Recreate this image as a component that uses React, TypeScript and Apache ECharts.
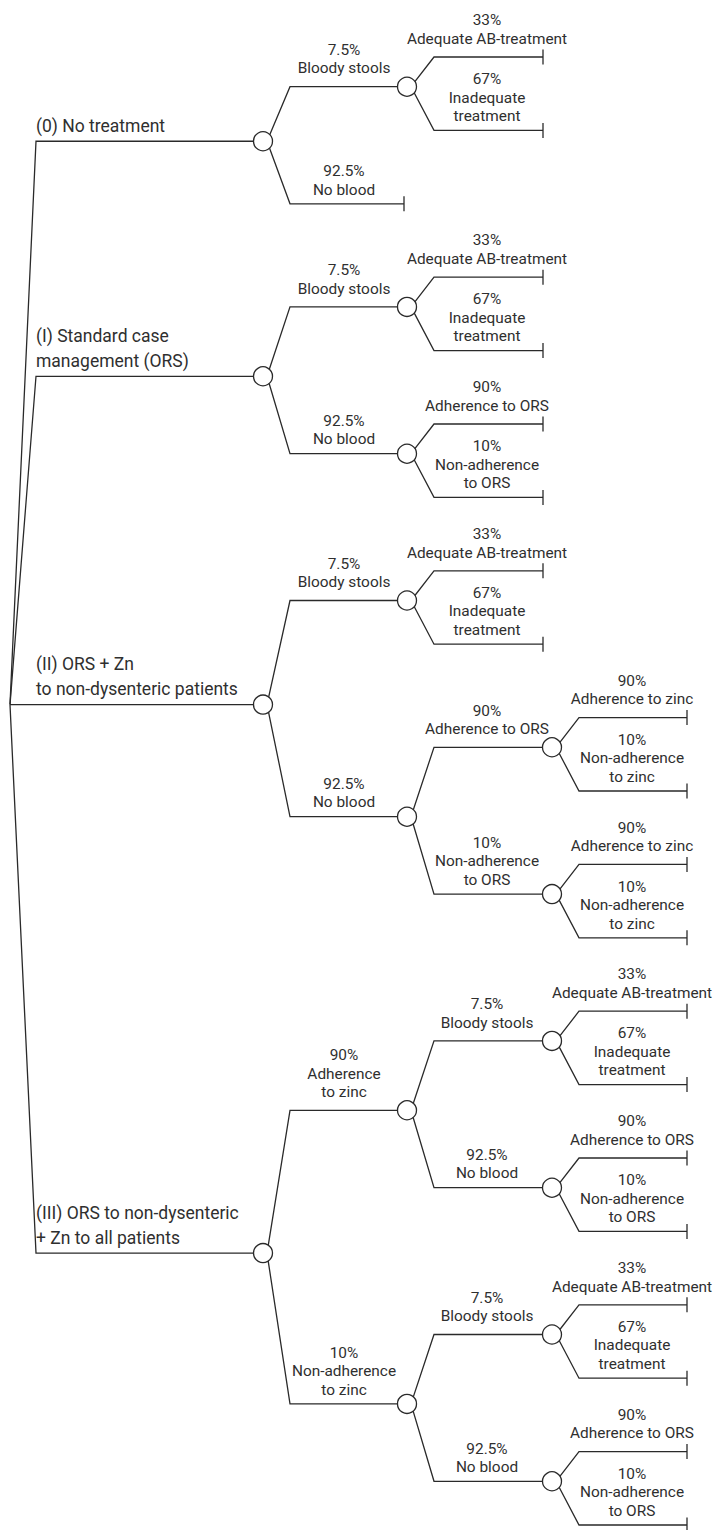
import React, { useEffect, useRef } from "react";
import * as echarts from "echarts";

// ---------------- DATA ----------------
const strategies = [
  "(0) No treatment",
  "(I) Standard case\nmanagement (ORS)",
  "(II) ORS + Zn\nto non-dysenteric patients",
  "(III) ORS to non-dysenteric\n+ Zn to all patients",
];
const stoolProbs = ["7.5%", "92.5%"];
const stoolLabels = ["Bloody stools", "No blood"];
const abProbs = ["33%", "67%"];
const abLabels = ["Adequate AB-treatment", "Inadequate\ntreatment"];
const orsProbs = ["90%", "10%"];
const orsLabels = ["Adherence to ORS", "Non-adherence\nto ORS"];
const zincProbs = ["90%", "10%"];
const zincLabels = ["Adherence to zinc", "Non-adherence\nto zinc"];
const zincLabelsTop = ["Adherence\nto zinc", "Non-adherence\nto zinc"];

// ---------------- TREE ----------------
type TNode = { text: string; prob?: string; children: TNode[]; y?: number; depth?: number; first?: boolean };

const leaves = (probs: string[], labels: string[]): TNode[] =>
  probs.map((p, i) => ({ prob: p, text: labels[i], children: [] }));
const branch = (probs: string[], labels: string[], kids: (TNode[] | null)[]): TNode[] =>
  probs.map((p, i) => ({ prob: p, text: labels[i], children: kids[i] || [] }));
const stoolOrs = () =>
  branch(stoolProbs, stoolLabels, [leaves(abProbs, abLabels), leaves(orsProbs, orsLabels)]);

const trees: TNode[] = [
  { text: strategies[0], children: branch(stoolProbs, stoolLabels, [leaves(abProbs, abLabels), null]) },
  { text: strategies[1], children: stoolOrs() },
  {
    text: strategies[2],
    children: branch(stoolProbs, stoolLabels, [
      leaves(abProbs, abLabels),
      branch(orsProbs, orsLabels, [leaves(zincProbs, zincLabels), leaves(zincProbs, zincLabels)]),
    ]),
  },
  { text: strategies[3], children: branch(zincProbs, zincLabelsTop, [stoolOrs(), stoolOrs()]) },
];

// ---------------- LAYOUT (style constants) ----------------
const W = 713;
const H = 1530;
const LAY = {
  rootX: 10,
  stemX: 36,
  nodeX: [10, 263, 407, 552, 696],
  tickX: [0, 0, 404, 543, 687],
  labelX: [0, 36, 344, 487, 632],
  elbow: 27,
  leafTop: 57,
  leafStep: 73.4,
  liftLeafParent: 7,
  liftParent: 4,
  rootAlignIndex: 2,
};
const INK = "#2a2a2a";
const TEXT = "#2f2f2f";

let leafCounter = 0;
function layout(n: TNode, depth: number) {
  n.depth = depth;
  if (!n.children.length) {
    n.y = LAY.leafTop + leafCounter++ * LAY.leafStep;
    return;
  }
  n.children.forEach((c, i) => {
    c.first = i === 0;
    layout(c, depth + 1);
  });
  const mean = n.children.reduce((s, c) => s + (c.y as number), 0) / n.children.length;
  const allLeaves = n.children.every((c) => !c.children.length);
  n.y = mean - (allLeaves ? LAY.liftLeafParent : LAY.liftParent);
}
trees.forEach((t) => layout(t, 1));
const rootY = trees[LAY.rootAlignIndex].y as number;

type Edge = { pts: number[][]; tick?: number[][]; label: string; lx: number; ly: number; main: boolean };
const edges: Edge[] = [];
const circles: number[][] = [];

function collect(n: TNode, parent: TNode | null) {
  const d = n.depth as number;
  const y = n.y as number;
  const isLeaf = !n.children.length;
  const endX = isLeaf ? LAY.tickX[d] : LAY.nodeX[d];
  let pts: number[][];
  if (!parent) {
    pts = [[LAY.rootX, rootY], [LAY.stemX, y], [endX, y]];
  } else {
    const px = LAY.nodeX[d - 1];
    pts = [[px + 4, parent.y as number], [px + LAY.elbow, y], [endX, y]];
  }
  const e: Edge = {
    pts,
    label: parent ? `${n.prob}\n${n.text}` : n.text,
    lx: LAY.labelX[d],
    ly: parent ? y - (n.first ? 9 : 5) : y - 3,
    main: !parent,
  };
  if (isLeaf) e.tick = [[endX, y - 7.5], [endX, y + 7.5]];
  edges.push(e);
  if (!isLeaf) circles.push([LAY.nodeX[d], y]);
  n.children.forEach((c) => collect(c, n));
}
trees.forEach((t) => collect(t, null));

export default function App() {
  const ref = useRef<HTMLDivElement>(null);
  useEffect(() => {
    if (!ref.current) return;
    const chart = echarts.init(ref.current, undefined, { renderer: "svg" });
    chart.setOption({
      animation: false,
      backgroundColor: "#ffffff",
      grid: { left: 0, right: 0, top: 0, bottom: 0 },
      xAxis: { type: "value", min: 0, max: W, show: false },
      yAxis: { type: "value", min: 0, max: H, inverse: true, show: false },
      series: [
        {
          type: "custom",
          coordinateSystem: "cartesian2d",
          z: 1,
          silent: true,
          data: edges.map((e, i) => [e.pts[2][0], e.pts[2][1], i]),
          renderItem: (params: any, api: any) => {
            const e = edges[params.dataIndex];
            const children: any[] = [
              {
                type: "polyline",
                shape: { points: e.pts.map((p) => api.coord(p)) },
                style: { stroke: INK, lineWidth: 1.3, fill: null },
              },
            ];
            if (e.tick) {
              const a = api.coord(e.tick[0]);
              const b = api.coord(e.tick[1]);
              children.push({
                type: "line",
                shape: { x1: a[0], y1: a[1], x2: b[0], y2: b[1] },
                style: { stroke: INK, lineWidth: 1.3 },
              });
            }
            const lp = api.coord([e.lx, e.ly]);
            children.push({
              type: "text",
              style: {
                text: e.label,
                x: lp[0],
                y: lp[1],
                align: e.main ? "left" : "center",
                verticalAlign: "bottom",
                fill: TEXT,
                font: e.main ? "17.5px Roboto" : "15.4px Roboto",
                lineHeight: e.main ? 25 : 18.5,
              },
            });
            return { type: "group", children };
          },
        },
        {
          type: "scatter",
          z: 3,
          silent: true,
          symbol: "circle",
          symbolSize: 19,
          itemStyle: { color: "#ffffff", borderColor: INK, borderWidth: 1.3, opacity: 1 },
          data: circles,
        },
      ],
    });
    return () => chart.dispose();
  }, []);
  return (
    <div
      ref={ref}
      style={{ position: "absolute", left: 0, top: 0, width: W, height: H, background: "#fff" }}
    />
  );
}
